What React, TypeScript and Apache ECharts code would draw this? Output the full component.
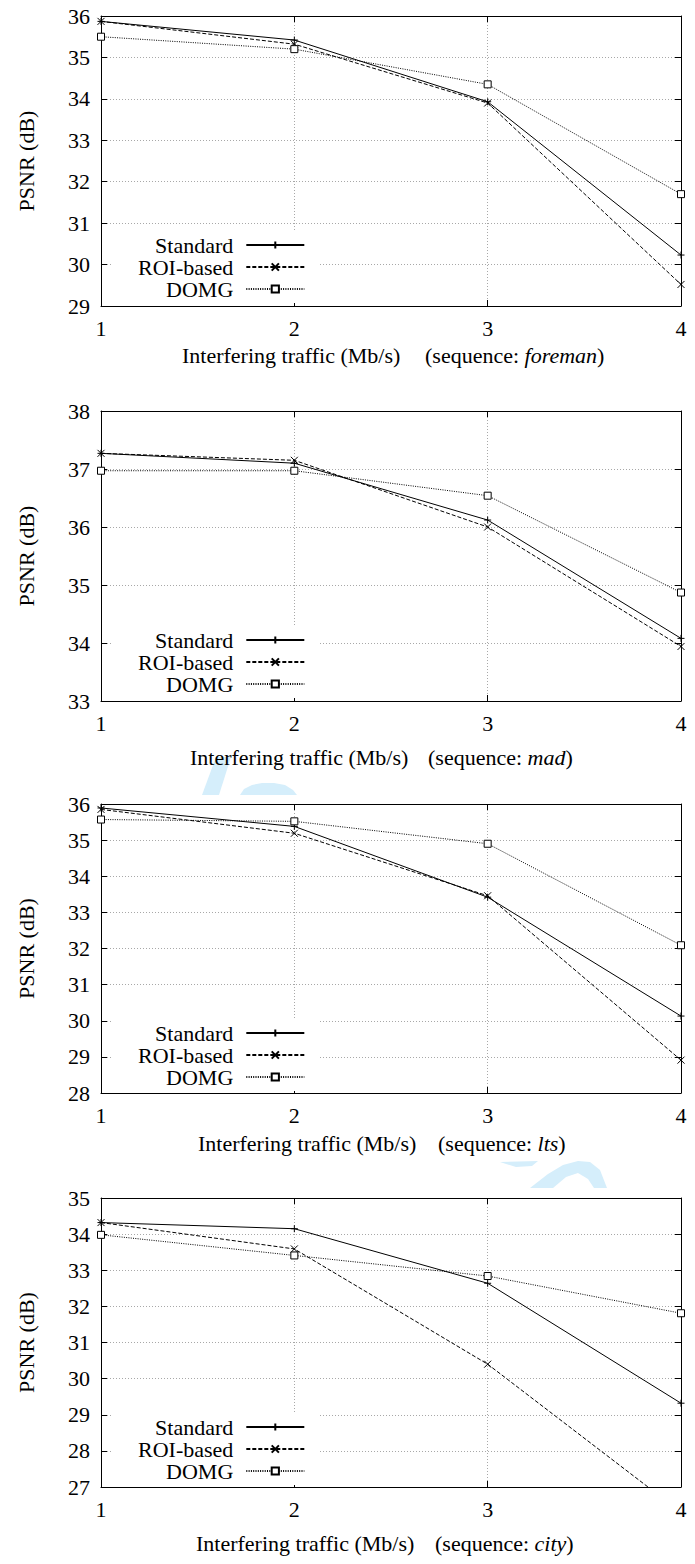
import React, { useEffect, useRef } from "react";
import * as echarts from "echarts";

// Interfering traffic (Mb/s) on the x axis
const trafficRates = [1, 2, 3, 4];
const seriesNames = ["Standard", "ROI-based", "DOMG"];
const sequenceNames = ["foreman", "mad", "lts", "city"];

// PSNR (dB) per sequence and scheme
const foremanStandard = [35.87, 35.42, 33.93, 30.23];
const foremanRoi = [35.87, 35.32, 33.9, 29.52];
const foremanDomg = [35.5, 35.2, 34.35, 31.7];

const madStandard = [37.27, 37.1, 36.12, 34.08];
const madRoi = [37.27, 37.15, 36.0, 33.94];
const madDomg = [36.97, 36.97, 36.54, 34.87];

const ltsStandard = [35.89, 35.38, 33.42, 30.13];
const ltsRoi = [35.85, 35.19, 33.46, 28.91];
const ltsDomg = [35.57, 35.52, 34.9, 32.09];

const cityStandard = [34.32, 34.15, 32.64, 29.32];
const cityRoi = [34.32, 33.59, 30.4, 26.3];
const cityDomg = [33.98, 33.41, 32.84, 31.81];

const panelValues = [
  [foremanStandard, foremanRoi, foremanDomg],
  [madStandard, madRoi, madDomg],
  [ltsStandard, ltsRoi, ltsDomg],
  [cityStandard, cityRoi, cityDomg],
];

// y-axis ranges (dB)
const yMins = [29, 33, 28, 27];
const yMaxs = [36, 38, 36, 35];

// layout
const FONT = "Liberation Serif";
const FS = 22;
const gridTops = [16, 411, 804, 1198];
const gridHeights = [290, 290, 289, 289];
const legendTops = [231, 626, 1019, 1413];
const titleYs = [355, 757, 1143, 1543];
const titleLeftXs = [182, 190, 198, 196];
const titleRightXs = [425, 428, 438, 435];

const symbols = [
  "path://M0,5L10,5M5,0L5,10",
  "path://M0,0L10,10M10,0L0,10",
  "path://M0,0L10,0L10,10L0,10Z",
];
const dashes: any[] = ["solid", [4, 2], [1, 1.3]];

const grayDots = { color: "#a8a8a8", type: [1, 2], width: 1 };
const black = "#000";

function buildOption() {
  const grid: any[] = [];
  const xAxis: any[] = [];
  const yAxis: any[] = [];
  const series: any[] = [];
  const legend: any[] = [];
  const graphic: any[] = [];

  sequenceNames.forEach((seq, i) => {
    grid.push({
      left: 101,
      width: 580,
      top: gridTops[i],
      height: gridHeights[i],
      outerBoundsMode: "none",
    });

    const tick = { show: true, inside: true, length: 6, lineStyle: { color: black, width: 1 } };
    const line = { show: true, onZero: false, lineStyle: { color: black, width: 1 } };
    const labelStyle = { fontSize: FS, fontFamily: FONT, color: black, margin: 11 };

    xAxis.push({
      gridIndex: i,
      type: "value",
      position: "bottom",
      min: 1,
      max: 4,
      interval: 1,
      axisLine: line,
      axisTick: tick,
      axisLabel: labelStyle,
      splitLine: { show: true, lineStyle: grayDots },
    });
    xAxis.push({
      gridIndex: i,
      type: "value",
      position: "top",
      min: 1,
      max: 4,
      interval: 1,
      axisLine: line,
      axisTick: tick,
      axisLabel: { show: false },
      splitLine: { show: false },
    });

    yAxis.push({
      gridIndex: i,
      type: "value",
      position: "left",
      min: yMins[i],
      max: yMaxs[i],
      interval: 1,
      name: "PSNR (dB)",
      nameLocation: "middle",
      nameGap: 64,
      nameTextStyle: { fontSize: FS, fontFamily: FONT, color: black },
      axisLine: line,
      axisTick: tick,
      axisLabel: labelStyle,
      splitLine: { show: true, lineStyle: grayDots },
    });
    yAxis.push({
      gridIndex: i,
      type: "value",
      position: "right",
      min: yMins[i],
      max: yMaxs[i],
      interval: 1,
      axisLine: line,
      axisTick: tick,
      axisLabel: { show: false },
      splitLine: { show: false },
    });

    seriesNames.forEach((name, k) => {
      series.push({
        type: "line",
        name,
        xAxisIndex: 2 * i,
        yAxisIndex: 2 * i,
        data: trafficRates.map((x, j) => [x, panelValues[i][k][j]]),
        symbol: symbols[k],
        symbolSize: 7,
        clip: true,
        silent: true,
        lineStyle: { color: black, width: 1, type: dashes[k] },
        itemStyle: {
          color: k === 2 ? "#fff" : black,
          borderColor: black,
          borderWidth: 1,
        },
        emphasis: { disabled: true },
      });
    });

    legend.push({
      data: seriesNames,
      orient: "vertical",
      align: "right",
      left: 113,
      top: legendTops[i],
      itemWidth: 58,
      itemHeight: 9,
      itemGap: 0,
      padding: [3, 13, 3, 25],
      backgroundColor: "#fff",
      selectedMode: false,
      textStyle: { fontSize: FS, fontFamily: FONT, color: black, padding: [0, 8, 0, 0] },
    });

    graphic.push({
      type: "text",
      x: titleLeftXs[i],
      y: titleYs[i],
      silent: true,
      style: {
        text: "Interfering traffic (Mb/s)",
        font: `${FS}px ${FONT}`,
        fontSize: FS,
        fontFamily: FONT,
        fill: black,
        verticalAlign: "middle",
      },
    });
    graphic.push({
      type: "text",
      x: titleRightXs[i],
      y: titleYs[i],
      silent: true,
      style: {
        text: `{n|(sequence: }{i|${seq}}{n|)}`,
        fontSize: FS,
        fontFamily: FONT,
        fill: black,
        verticalAlign: "middle",
        rich: {
          n: { fontSize: FS, fontFamily: FONT, fill: black },
          i: { fontSize: FS, fontFamily: FONT, fill: black, fontStyle: "italic" },
        },
      },
    });
  });

  // faint blue mark showing between the panels
  const tint = "#d5eefb";
  const marks = [
    [[216, 757], [231, 757], [219, 795], [202, 795]],
    [[240, 795], [244, 789], [252, 785], [262, 783], [274, 783], [285, 785], [293, 790], [297, 795]],
    [[500, 1162], [538, 1161], [532, 1166], [516, 1167]],
    [[530, 1188], [548, 1174], [563, 1165], [578, 1161], [590, 1162], [600, 1170], [607, 1188],
     [594, 1188], [588, 1179], [578, 1173], [566, 1177], [553, 1188]],
  ];
  marks.forEach((pts) => {
    graphic.unshift({ type: "polygon", silent: true, z: -1, shape: { points: pts }, style: { fill: tint } });
  });

  return {
    animation: false,
    backgroundColor: "#fff",
    textStyle: { fontFamily: FONT },
    grid,
    xAxis,
    yAxis,
    series,
    legend,
    graphic,
  };
}

export default function App() {
  const ref = useRef<HTMLDivElement>(null);
  useEffect(() => {
    if (!ref.current) return;
    const chart = echarts.init(ref.current, null, { renderer: "svg" });
    chart.setOption(buildOption() as any);
    return () => chart.dispose();
  }, []);
  return (
    <div
      ref={ref}
      style={{ position: "absolute", left: 0, top: 0, width: 695, height: 1564 }}
    />
  );
}
